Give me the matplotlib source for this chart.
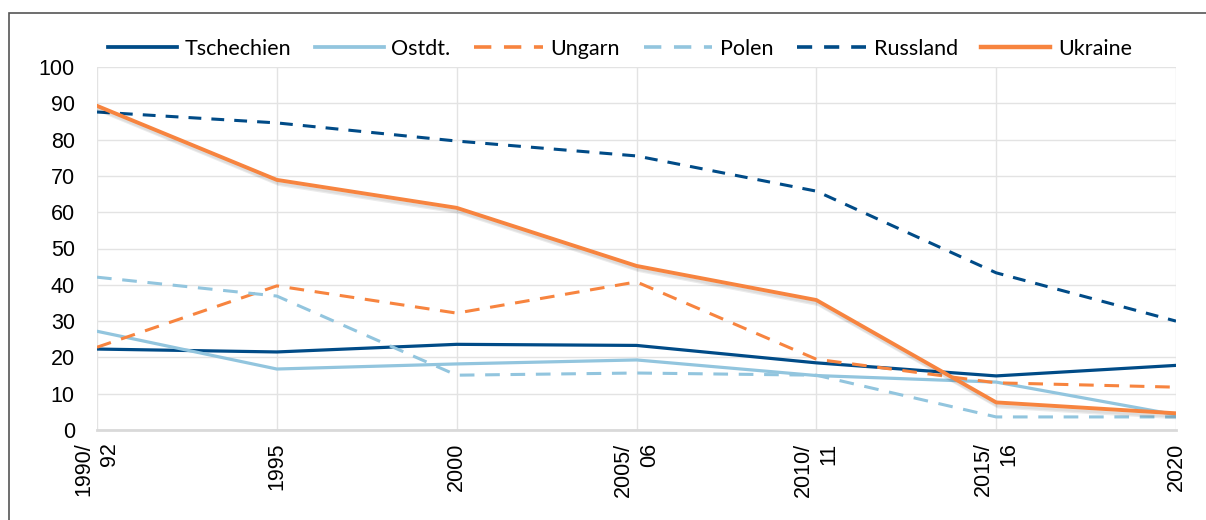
import matplotlib
matplotlib.use("Agg")
import matplotlib.pyplot as plt
import matplotlib.patheffects as pe
from matplotlib.patches import Rectangle
from matplotlib.lines import Line2D

categories = ["1990/\n92", "1995", "2000", "2005/\n06", "2010/\n11", "2015/\n16", "2020"]
tschechien = [22.3, 21.5, 23.6, 23.3, 18.5, 14.9, 17.8]
ostdt = [27.2, 16.8, 18.2, 19.3, 15.0, 13.2, 4.2]
ungarn = [22.8, 39.7, 32.2, 40.8, 19.5, 13.0, 11.8]
polen = [42.1, 36.9, 15.1, 15.7, 15.1, 3.6, 3.6]
russland = [87.6, 84.6, 79.6, 75.5, 65.8, 43.3, 30.0]
ukraine = [89.3, 68.9, 61.2, 45.2, 35.8, 7.6, 4.6]

dark_blue = "#004B87"
light_blue = "#92C5DE"
orange = "#F7843F"
dash_long = (0, (4.8, 3.5))
dash_short = (0, (4.2, 3.3))

fig = plt.figure(figsize=(12.06, 5.2), dpi=100)
ax = fig.add_axes([97/1206, 1-430/520, (1176-97)/1206, (430-67)/520])

x = list(range(len(categories)))
shadow = [pe.SimpleLineShadow(offset=(1.5, -3), shadow_color="black", alpha=0.08, rho=1),
          pe.SimpleLineShadow(offset=(1, -2), shadow_color="black", alpha=0.06, rho=1),
          pe.Normal()]

styles = [
    ("Tschechien", tschechien, dark_blue, 2.3, "-"),
    ("Ostdt.", ostdt, light_blue, 2.3, "-"),
    ("Ungarn", ungarn, orange, 2.2, dash_long),
    ("Polen", polen, light_blue, 2.2, dash_long),
    ("Russland", russland, dark_blue, 2.2, dash_short),
    ("Ukraine", ukraine, orange, 2.8, "-"),
]
handles = []
for name, vals, col, lw, ls in styles:
    kw = {}
    if name == "Ukraine":
        kw["path_effects"] = shadow
    ax.plot(x, vals, color=col, lw=lw, ls=ls, solid_joinstyle="round", **kw)
    handles.append(Line2D([], [], color=col, lw=lw + 0.4, ls=ls))

ax.set_xlim(0, 6)
ax.set_ylim(0, 100)
ax.set_yticks(range(0, 101, 10))
ax.set_xticks(x)
ax.set_xticklabels(categories, rotation=90, ha="center", va="top", multialignment="right",
                   fontfamily="Liberation Sans", fontsize=15.5, linespacing=1.3)
for lab in ax.get_yticklabels():
    lab.set_fontfamily("Liberation Sans")
    lab.set_fontsize(15.5)
ax.tick_params(axis="y", length=0, pad=16, colors="black")
ax.tick_params(axis="x", length=0, pad=9, colors="black")
ax.grid(True, color="#E3E3E3", lw=1)
ax.set_axisbelow(True)
for s in ["top", "right", "left"]:
    ax.spines[s].set_visible(False)
ax.spines["bottom"].set_color("#D9D9D9")
ax.spines["bottom"].set_linewidth(2)

fig.legend(handles, [s[0] for s in styles], loc="center", bbox_to_anchor=(0.514, 1-49/520),
           ncol=6, frameon=False, prop={"family": "Lato", "size": 15.5},
           handlelength=3.2, columnspacing=1.1, handletextpad=0.35)

fig.patches.append(Rectangle((9/1206, -0.05), 1.2, 0.05 + 1-13/520, transform=fig.transFigure,
                             fill=False, edgecolor="#555555", lw=1.2))

fig.savefig("out.png", dpi=100)
